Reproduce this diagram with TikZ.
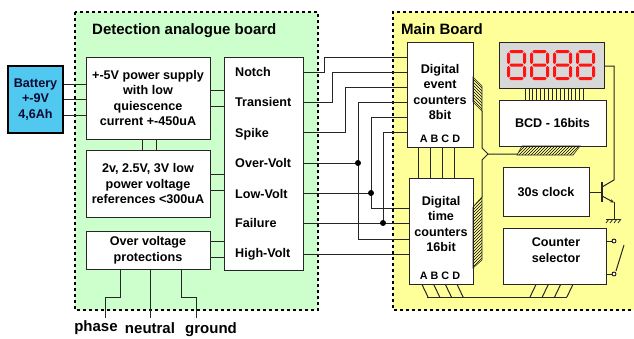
\documentclass[tikz,border=0pt]{standalone}
\usepackage{fontspec}
\setmainfont{Liberation Sans}
\usetikzlibrary{patterns,arrows.meta}
\definecolor{greenbg}{RGB}{204,255,204}
\definecolor{yellowbg}{RGB}{255,255,153}
\definecolor{batblue}{RGB}{80,200,240}
\definecolor{dispgray}{RGB}{216,216,216}
\definecolor{segred}{RGB}{255,20,20}
\definecolor{navy}{RGB}{10,10,50}
\newcommand\boxfont{\fontsize{12.6}{15.5}\selectfont\bfseries}
\newcommand\titlefont{\fontsize{15}{18}\selectfont\bfseries}
\newcommand\smallfont{\fontsize{10.8}{13}\selectfont\bfseries}
\newcommand\hsegm[3]{\fill[segred] (#1,#3) -- (#1+1.5,#3-1.5) -- (#2-1.5,#3-1.5) -- (#2,#3) -- (#2-1.5,#3+1.5) -- (#1+1.5,#3+1.5) -- cycle;}
\newcommand\vsegm[3]{\fill[segred] (#1,#2) -- (#1+1.5,#2+1.5) -- (#1+1.5,#3-1.5) -- (#1,#3) -- (#1-1.5,#3-1.5) -- (#1-1.5,#2+1.5) -- cycle;}
\begin{document}
\begin{tikzpicture}[x=1pt,y=-1pt,
  boardline/.style={line width=2pt,dash pattern=on 3pt off 3pt},
  box/.style={draw=black!85,fill=white,line width=1pt,inner sep=0pt,align=center,font=\boxfont},
  txt/.style={inner sep=0pt,align=center,font=\boxfont},
  wire/.style={draw=black!85,line width=1pt},
  jdot/.style={fill=black,draw=none},
  hatch/.style={draw=black!85,line width=0.6pt,pattern=north east lines},
  hatchb/.style={draw=black!85,line width=0.6pt,pattern=north west lines}]
\useasboundingbox (0,0) rectangle (634,338);
% boards
\fill[greenbg] (75,12) rectangle (318,310);
\draw[boardline] (75,12) rectangle (318,310);
\fill[yellowbg] (393,12) rectangle (640,310);
\draw[boardline] (640,12) -- (393,12) -- (393,310) -- (640,310);
\node[anchor=base west,inner sep=0pt,font=\titlefont] (t1) at (92,34) {Detection analogue board};
\node[anchor=base west,inner sep=0pt,font=\titlefont] (t2) at (401,34) {Main Board};
% battery
\node[box,fill=batblue,line width=2pt,draw=black,text=navy,minimum width=55pt,minimum height=67pt] (bat) at (35.5,99.5) {Battery\\+-9V\\4,6Ah};
% analogue boxes
\node[box,minimum width=124pt,minimum height=82pt] (pwr) at (148,98) {+-5V power supply\\with low\\quiescence\\current +-450uA};
\node[box,minimum width=124pt,minimum height=67pt] (ref) at (148,183.5) {2v, 2.5V, 3V low\\power voltage\\references <300uA};
\node[box,minimum width=124pt,minimum height=38pt] (ovp) at (148,250) {Over voltage\\protections};
\node[box,minimum width=79pt,minimum height=213pt] (sig) at (263.5,163.5) {};
\foreach \n/\t/\y in {lnotch/Notch/76,ltrans/Transient/106,lspike/Spike/137,lover/Over-Volt/167,llow/Low-Volt/198,lfail/Failure/227,lhigh/High-Volt/257}
  \node[anchor=base west,inner sep=0pt,font=\boxfont] (\n) at (235,\y) {\t};
% battery wires
\foreach \y in {84,99,115} \draw[wire] (bat.east |- 0,\y) -- (pwr.west |- 0,\y);
\foreach \x in {142,156} \draw[wire] (pwr.south -| \x,0) -- (ref.north -| \x,0);
\foreach \y in {90,106} \draw[wire] (pwr.east |- 0,\y) -- (sig.west |- 0,\y);
\foreach \y in {174,190} \draw[wire] (ref.east |- 0,\y) -- (sig.west |- 0,\y);
\foreach \y in {241,257} \draw[wire] (ovp.east |- 0,\y) -- (sig.west |- 0,\y);
% mains
\coordinate (phE) at (105,318);
\coordinate (neE) at (150,318);
\coordinate (grE) at (196,318);
\draw[wire] (ovp.south -| 120,0) -- (120,297) -| (phE);
\draw[wire] (ovp.south -| neE) -- (neE);
\draw[wire] (ovp.south -| 181,0) -- (181,297) -| (grE);
\node[anchor=base,inner sep=0pt,font=\titlefont] (phase) at (96,331) {phase};
\node[anchor=base,inner sep=0pt,font=\titlefont] (neutral) at (150,333) {neutral};
\node[anchor=base,inner sep=0pt,font=\titlefont] (ground) at (211,333) {ground};
% main board boxes
\node[box,minimum width=66pt,minimum height=105pt] (evt) at (440,94.5) {};
\node[txt] (evtt) at (440,92) {Digital\\event\\counters\\8bit};
\node[anchor=base,inner sep=0pt,font=\smallfont] (evtl) at (440,142) {A B C D};
\node[box,minimum width=64pt,minimum height=106pt] (tim) at (441,231) {};
\node[txt] (timt) at (441,224) {Digital\\time\\counters\\16bit};
\node[anchor=base,inner sep=0pt,font=\smallfont] (timl) at (440,279) {A B C D};
\node[box,fill=dispgray,minimum width=105pt,minimum height=46pt] (disp) at (551.5,65) {};
\node[box,minimum width=107pt,minimum height=46pt] (bcd) at (552.5,123) {BCD - 16bits};
\node[box,minimum width=86pt,minimum height=49pt] (clk) at (546,191.5) {30s clock};
\node[box,minimum width=103pt,minimum height=56pt] (sel) at (554.5,256) {};
\node[txt] (selt) at (556,250) {Counter\\selector};
% seven segment digits
\foreach \d in {0,1,2,3}{
  \pgfmathsetmacro\sx{507+23*\d}
  \hsegm{\sx+2.3}{\sx+16.7}{51.5}
  \hsegm{\sx+2.3}{\sx+16.7}{65}
  \hsegm{\sx+2.3}{\sx+16.7}{78.5}
  \vsegm{\sx+1.5}{52.3}{64.2}
  \vsegm{\sx+1.5}{65.8}{77.7}
  \vsegm{\sx+17.5}{52.3}{64.2}
  \vsegm{\sx+17.5}{65.8}{77.7}
}
% display - bcd bus
\foreach \i in {0,...,15} \draw[draw=black!85,line width=0.8pt] (disp.south -| 525+3.9*\i,0) -- (bcd.north -| 525+3.9*\i,0);
% signal wiring
\draw[wire] (sig.east |- 0,72) -| (324,57) -- (evt.west |- 0,57);
\draw[wire] (sig.east |- 0,102) -| (332,72) -- (evt.west |- 0,72);
\draw[wire] (sig.east |- 0,132) -| (345,87) -- (evt.west |- 0,87);
\coordinate (jo) at (358,163);
\coordinate (jl) at (371,193);
\coordinate (jf) at (383,223);
\draw[wire] (sig.east |- jo) -- (jo);
\draw[wire] (evt.west |- 0,102) -| (358,239) -- (tim.west |- 0,239);
\draw[wire] (sig.east |- jl) -- (jl);
\draw[wire] (evt.west |- 0,117) -| (371,208) -- (tim.west |- 0,208);
\draw[wire] (sig.east |- jf) -- (tim.west |- jf);
\draw[wire] (evt.west |- 0,132) -| (jf);
\draw[wire] (sig.east |- 0,254) -- (tim.west |- 0,254);
\foreach \c in {jo,jl,jf} \fill[jdot] (\c) circle (3pt);
% ABCD between counters
\foreach \x in {418,430,442,454} \draw[wire] (evt.south -| \x,0) -- (tim.north -| \x,0);
% internal bus
\draw[hatchb] (473,77) -- (482,86) -- (482,111) -- (473,102) -- cycle;
\draw[hatch] (473,207) -- (482,197) -- (482,260) -- (473,268) -- cycle;
\draw[hatch] (522,146) -- (580,146) -- (573,155) -- (517,155) -- cycle;
\coordinate (bj) at (488,154);
\draw[wire] (482,111) -- (482,148) -- (bj) -- (517,154);
\draw[wire] (bj) -- (482,160) -- (482,197);
% bottom bus
\foreach \i in {0,1,2,3} \draw[wire] (tim.south -| 422+11.7*\i,0) -- (428+11.7*\i,297);
\foreach \i in {0,1,2,3} \draw[wire] (sel.south -| 536+12.3*\i,0) -- (530+12.3*\i,297);
\draw[wire] (427,297) -- (567,297);
% transistor
\draw[wire] (disp.east |- 0,66) -- (614,66) -- (614,180) -- (602,187);
\draw[wire] (clk.east |- 0,192) -- (602,192);
\draw[draw=black!85,line width=1.6pt] (602,182) -- (602,202);
\draw[wire,-{Stealth[length=4pt,width=3.5pt]}] (602,196) -- (614,202.5);
\draw[wire] (614,202) -- (614,219);
\draw[wire] (606,219) -- (620,219);
\foreach \x in {606,610,614,618} \draw[draw=black!85,line width=0.8pt] (\x,223) -- (\x+3,219);
% switch
\draw[wire] (sel.east |- 0,241) -- (612,241);
\draw[wire] (sel.east |- 0,274) -- (612,274);
\draw[draw=black,line width=0.8pt,fill=white] (614,241) circle (2pt);
\draw[draw=black,line width=0.8pt,fill=white] (614,274) circle (2pt);
\draw[wire] (616,271) -- (624,245);
\end{tikzpicture}
\end{document}
